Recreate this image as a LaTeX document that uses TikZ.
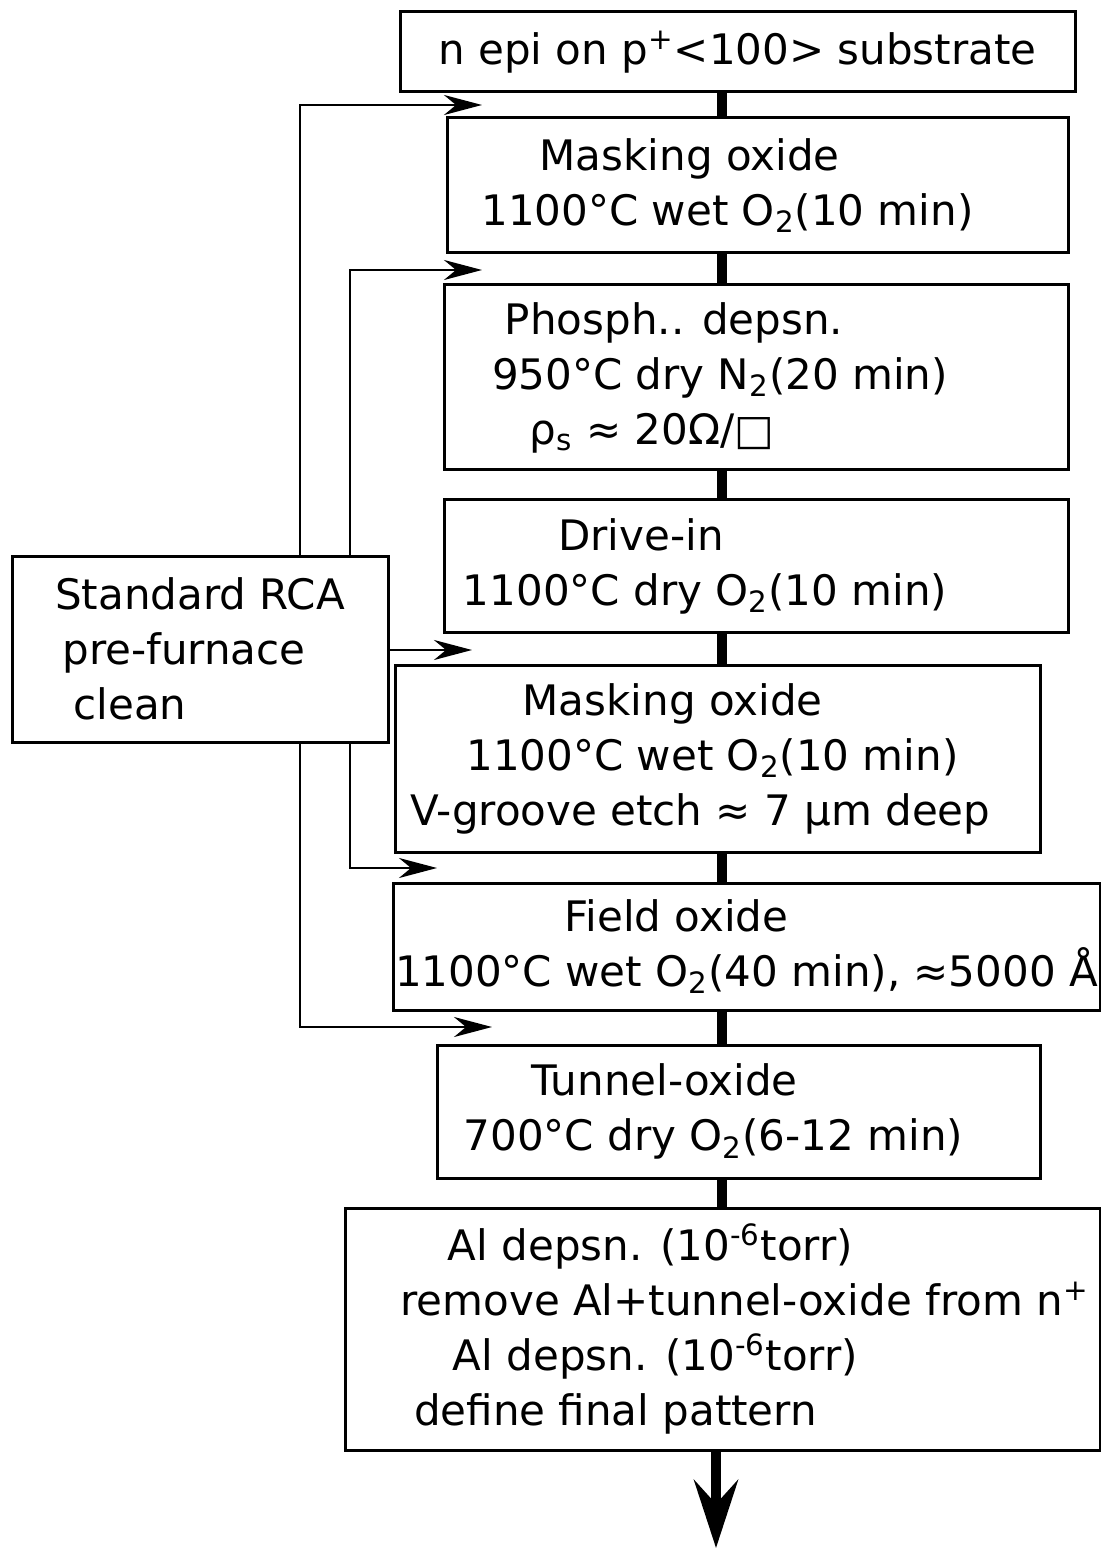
\documentclass[tikz,border=0pt]{standalone}
\usepackage{fontspec}
\setmainfont{DejaVu Sans}
\usetikzlibrary{arrows.meta}
% shift a centred line left / right (argument in pixels of the drawing)
\newcommand{\nudgel}[2]{\hbox{#2\kern#1pt}}
\newcommand{\nudger}[2]{\hbox{\kern#1pt#2}}
\newcommand{\stepfont}{\fontsize{21}{27.5}\selectfont}
\tikzset{
  stepbox/.style={draw, line width=1.5pt, inner sep=0pt, align=center, font=\stepfont},
  feed/.style={line width=1.4pt, -{Stealth[length=19pt, width=10pt, inset=6pt]}},
  spine/.style={line width=4.8pt},
}

\begin{document}
\begin{tikzpicture}[x=0.5pt, y=-0.5pt]
\useasboundingbox (0,0) rectangle (1100,1550);

% process steps
\node[stepbox, minimum width=337.5pt, minimum height=40pt] (epi) at (737.5,52)
  {n epi on p\textsuperscript{+}<100> substrate};
\node[stepbox, minimum width=310.5pt, minimum height=67.5pt] (mask1) at (757.5,185.5)
  {\nudgel{68}{Masking oxide}\\\nudgel{30}{1100°C wet O\textsubscript{2}(10 min)}};
\node[stepbox, minimum width=312pt, minimum height=92.5pt] (phos) at (756,377.5)
  {\nudgel{82}{Phosph.. depsn.}\\\nudgel{36}{950°C dry N\textsubscript{2}(20 min)}\\\nudgel{104}{ρ\textsubscript{s} ≈ 20Ω/□}};
\node[stepbox, minimum width=312pt, minimum height=66pt] (drive) at (756,566)
  {\nudgel{115}{Drive-in}\\\nudgel{51}{1100°C dry O\textsubscript{2}(10 min)}};
\node[stepbox, minimum width=322.5pt, minimum height=93.5pt] (mask2) at (717.5,758.5)
  {\nudgel{45}{Masking oxide}\\\nudgel{5}{1100°C wet O\textsubscript{2}(10 min)}\\\nudgel{17}{V-groove etch ≈ 7 µm deep}};
\node[stepbox, minimum width=353.5pt, minimum height=63.5pt] (field) at (746.5,946.5)
  {\nudgel{70}{Field oxide}\\1100°C wet O\textsubscript{2}(40 min), ≈5000 Å};
\node[stepbox, minimum width=301.5pt, minimum height=66.5pt] (tunnel) at (738.5,1111.5)
  {\nudgel{74}{Tunnel-oxide}\\\nudgel{25}{700°C dry O\textsubscript{2}(6-12 min)}};
\node[stepbox, minimum width=377.5pt, minimum height=121pt] (metal) at (722.5,1329)
  {\nudgel{72}{Al depsn. (10\textsuperscript{-6}torr)}\\\nudger{22}{remove Al+tunnel-oxide from n\textsuperscript{+}}\\\nudgel{67}{Al depsn. (10\textsuperscript{-6}torr)}\\\nudgel{107}{define final pattern}};

% cleaning step
\node[stepbox, minimum width=188pt, minimum height=93pt] (rca) at (200,649)
  {\nudgel{0}{Standard RCA}\\\nudgel{16}{pre-furnace}\\\nudgel{70}{clean}};

\coordinate (axis) at (722,0);
\coordinate (colA) at (300,0);
\coordinate (colB) at (350,0);
\coordinate (in1) at (482,105);
\coordinate (in2) at (482,270);
\coordinate (in3) at (472,650);
\coordinate (in4) at (437,868);
\coordinate (in5) at (492,1027);
\coordinate (out) at (716,1548);

% main flow
\foreach \a/\b in {epi/mask1, mask1/phos, phos/drive, drive/mask2, mask2/field, field/tunnel, tunnel/metal}
  \draw[spine] (\a.south -| axis) -- (\b.north -| axis);
\draw[spine, -{Stealth[length=34pt, width=22pt, inset=12pt]}] (metal.south -| out) -- (out);

% clean before each furnace step
\draw[feed] (rca.north -| colA) |- (in1);
\draw[feed] (rca.north -| colB) |- (in2);
\draw[feed] (rca.east |- in3) -- (in3);
\draw[feed] (rca.south -| colB) |- (in4);
\draw[feed] (rca.south -| colA) |- (in5);
\end{tikzpicture}
\end{document}
